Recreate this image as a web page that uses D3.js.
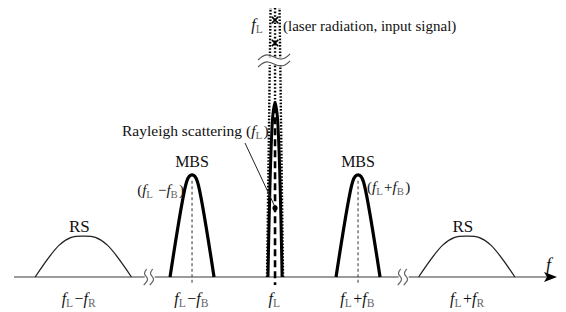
<!DOCTYPE html>
<html>
  <head>
    <meta charset="UTF-8" />
    <style>
      body {
        margin: 0;
        background: #fff;
      }
    </style>
  </head>
  <body>
    <svg></svg>
    <script src="https://d3js.org/d3.v7.min.js"></script>
    <script>
      let width = 566,
        height = 312;
      const FONT = "'Liberation Serif'";

      // peaks of the spectrum, positions in units of fB away from fL (axis is broken)
      const peakNames = ["RS", "MBS", "Rayleigh", "MBS", "RS"];
      const peakPos = [-2.31, -1, 0, 1, 2.31];
      const peakHeight = [0.152, 0.38, 0.65, 0.38, 0.152];
      const peakHalfWidth = [0.58, 0.265, 0.085, 0.265, 0.58];
      const tickLabels = [
        ["f", "L", "\u2212", "f", "R"],
        ["f", "L", "\u2212", "f", "B"],
        ["f", "L"],
        ["f", "L", "+", "f", "B"],
        ["f", "L", "+", "f", "R"],
      ];
      const axisBreaks = [-1.51, 1.55];
      const laserHeight = 1.0;

      // normalised profiles (x in half-widths, y in peak height)
      const rsShape = [[-1, 0], [-0.5, 0.78], [-0.25, 0.97], [0, 1], [0.25, 0.97], [0.5, 0.78], [1, 0]];
      const mbsShape = [[-1, 0], [-0.25, 0.93], [-0.13, 0.985], [0, 1], [0.13, 0.985], [0.25, 0.93], [1, 0]];
      const rayShape = [[-1, 0], [-0.3, 0.93], [0, 1], [0.3, 0.93], [1, 0]];

      let svg = d3.select("svg").attr("width", width).attr("height", height);

      let x = d3.scaleLinear().domain([-3.145, 3.397]).range([14, 557]);
      let y = d3.scaleLinear().domain([0, 1]).range([277, 8]);

      // helper: text with italic f and subscripts
      function richText(g, parts, px, py, anchor, size) {
        let t = g
          .append("text")
          .attr("x", px)
          .attr("y", py)
          .attr("text-anchor", anchor)
          .style("font-family", FONT)
          .style("font-size", size + "px")
          .attr("fill", "#111");
        parts.forEach((p) => {
          if (p == "f") {
            t.append("tspan").style("font-style", "italic").text("f");
          } else if (p.length == 1 && /[A-Z]/.test(p)) {
            t.append("tspan")
              .attr("dy", 3)
              .style("font-size", size * 0.72 + "px")
              .attr("fill", "#666")
              .text(p);
            t.append("tspan").attr("dy", -3).text("\u200a");
          } else {
            t.append("tspan").text(p);
          }
        });
        return t;
      }

      function plainText(px, py, anchor, size, str) {
        return svg
          .append("text")
          .attr("x", px)
          .attr("y", py)
          .attr("text-anchor", anchor)
          .style("font-family", FONT)
          .style("font-size", size + "px")
          .attr("fill", "#111")
          .text(str);
      }

      // axis line
      svg
        .append("line")
        .attr("x1", x.range()[0])
        .attr("x2", x.range()[1] - 6)
        .attr("y1", y(0))
        .attr("y2", y(0))
        .attr("stroke", "#7a7a7a")
        .attr("stroke-width", 1.6);

      svg
        .append("path")
        .attr(
          "d",
          "M" + x.range()[1] + "," + y(0) +
            "L" + (x.range()[1] - 13) + "," + (y(0) - 5) +
            "L" + (x.range()[1] - 10) + "," + y(0) +
            "L" + (x.range()[1] - 13) + "," + (y(0) + 5) + "Z"
        )
        .attr("fill", "#000");

      plainText(x.range()[1] - 11, y(0) - 6, "start", 18, "f").style("font-style", "italic");

      // axis breaks
      let wiggle = d3.line().curve(d3.curveBasis);
      axisBreaks.forEach((b) => {
        let cx = x(b);
        svg
          .append("rect")
          .attr("x", cx - 5)
          .attr("y", y(0) - 2)
          .attr("width", 10)
          .attr("height", 4)
          .attr("fill", "#fff");
        [-3, 3].forEach((o) => {
          svg
            .append("path")
            .attr(
              "d",
              wiggle([
                [cx + o, y(0) - 8],
                [cx + o - 4, y(0) - 3],
                [cx + o + 3, y(0) + 2],
                [cx + o - 3, y(0) + 8],
              ])
            )
            .attr("fill", "none")
            .attr("stroke", "#666")
            .attr("stroke-width", 1.2);
        });
      });

      let line = d3
        .line()
        .x((d) => d[0])
        .y((d) => d[1]);

      function peakPath(i, shape, curve) {
        return line.curve(curve)(
          shape.map((p) => [
            x(peakPos[i] + p[0] * peakHalfWidth[i]),
            y(p[1] * peakHeight[i]),
          ])
        );
      }

      // RS humps
      [0, 4].forEach((i) => {
        svg
          .append("path")
          .attr("d", peakPath(i, rsShape, d3.curveCatmullRom))
          .attr("fill", "none")
          .attr("stroke", "#222")
          .attr("stroke-width", 1.3);
        plainText(x(peakPos[i]) - 4, y(peakHeight[i]) - 4, "middle", 17, peakNames[i]);
      });

      // MBS peaks
      [1, 3].forEach((i) => {
        svg
          .append("line")
          .attr("x1", x(peakPos[i]))
          .attr("x2", x(peakPos[i]))
          .attr("y1", y(peakHeight[i]) + 6)
          .attr("y2", y(0) + 7)
          .attr("stroke", "#555")
          .attr("stroke-width", 1.2)
          .attr("stroke-dasharray", "3,2.5");
        svg
          .append("path")
          .attr("d", peakPath(i, mbsShape, d3.curveCatmullRom))
          .attr("fill", "none")
          .attr("stroke", "#000")
          .attr("stroke-width", 3.2);
        plainText(x(peakPos[i]), y(peakHeight[i]) - 8, "middle", 16, peakNames[i]);
      });
      richText(svg, ["(", "f", "L", " \u2212", "f", "B", ")"], x(peakPos[1]) - 8, y(peakHeight[1]) + 20, "end", 15);
      richText(svg, ["(", "f", "L", "+", "f", "B", ")"], x(peakPos[3]) + 9, y(peakHeight[3]) + 17, "start", 15);

      // laser line: dotted envelope up to the top
      let c = x(peakPos[2]);
      [-1, 1].forEach((s) => {
        svg
          .append("line")
          .attr("x1", c + s * 8)
          .attr("x2", c + s * 4.5)
          .attr("y1", y(0))
          .attr("y2", y(laserHeight))
          .attr("stroke", "#000")
          .attr("stroke-width", 2.4)
          .attr("stroke-dasharray", "1.6,1.6");
      });
      svg
        .append("line")
        .attr("x1", c)
        .attr("x2", c)
        .attr("y1", y(laserHeight))
        .attr("y2", y(peakHeight[2]))
        .attr("stroke", "#000")
        .attr("stroke-width", 2.4)
        .attr("stroke-dasharray", "1.6,2");
      [20, 43].forEach((yy) => {
        svg
          .append("path")
          .attr("d", d3.symbol(d3.symbolTimes, 28)())
          .attr("transform", "translate(" + c + "," + yy + ")")
          .attr("stroke", "#000")
          .attr("stroke-width", 1.6);
      });

      // break on the laser line
      svg
        .append("rect")
        .attr("x", c - 10)
        .attr("y", 58)
        .attr("width", 20)
        .attr("height", 7)
        .attr("fill", "#fff");
      [57, 64].forEach((yy) => {
        svg
          .append("path")
          .attr(
            "d",
            wiggle([
              [c - 17, yy + 3],
              [c - 8, yy - 5],
              [c + 6, yy + 5],
              [c + 15, yy - 3],
            ])
          )
          .attr("fill", "none")
          .attr("stroke", "#555")
          .attr("stroke-width", 1.2);
      });

      // Rayleigh peak
      svg
        .append("path")
        .attr("d", peakPath(2, rayShape, d3.curveCatmullRom))
        .attr("fill", "none")
        .attr("stroke", "#000")
        .attr("stroke-width", 3);
      svg
        .append("line")
        .attr("x1", c)
        .attr("x2", c)
        .attr("y1", y(peakHeight[2]) + 4)
        .attr("y2", y(0) + 8)
        .attr("stroke", "#000")
        .attr("stroke-width", 2.6)
        .attr("stroke-dasharray", "7,4");

      // Rayleigh label and leader
      richText(svg, ["Rayleigh scattering (", "f", "L", ")"], 122, 136, "start", 15.5);
      svg
        .append("line")
        .attr("x1", 245)
        .attr("y1", 143)
        .attr("x2", c)
        .attr("y2", 207)
        .attr("stroke", "#222")
        .attr("stroke-width", 1);
      svg
        .append("circle")
        .attr("cx", c)
        .attr("cy", 208)
        .attr("r", 2.6)
        .attr("fill", "#000");

      // top label
      richText(svg, ["f", "L"], c - 11, 30, "end", 16);
      plainText(c + 8, 31, "start", 15, "(laser radiation, input signal)");

      // tick labels under the axis
      tickLabels.forEach((parts, i) => {
        richText(svg, parts, x(peakPos[i]) - (i == 0 ? 4 : i == 4 ? -1 : 0), 304, "middle", 16);
      });
    </script>
  </body>
</html>
